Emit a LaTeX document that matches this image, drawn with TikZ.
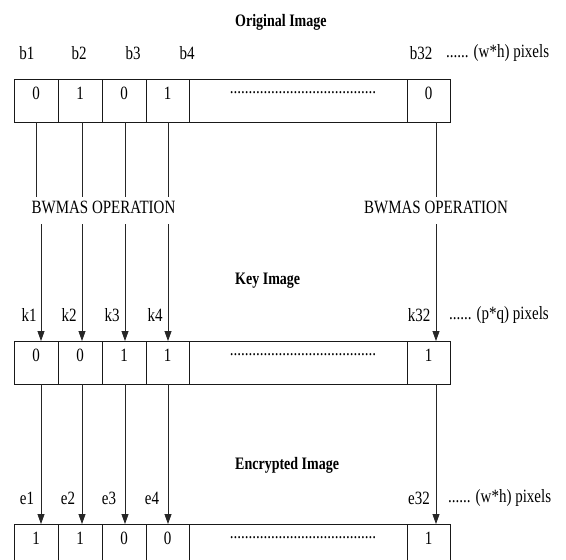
\documentclass[tikz,border=0pt]{standalone}
\usepackage{fontspec}
\setmainfont{Liberation Serif}
\usepackage{graphicx}
\usetikzlibrary{arrows.meta}
\newcommand\vst[1]{\scalebox{1}[1.25]{#1}}
\newcommand\dotsrow{.......................................}
\begin{document}
\begin{tikzpicture}[x=1pt,y=-1pt,
  txt/.style={inner sep=0pt, font=\fontsize{15}{17}\selectfont},
  ttl/.style={inner sep=0pt, anchor=west, font=\fontsize{14}{16}\selectfont\bfseries},
  cell/.style={draw=black!90, line width=0.8pt, minimum height=43pt, inner sep=0pt, outer sep=0pt},
  dig/.style={anchor=center, yshift=-14pt, inner sep=0pt, font=\fontsize{15}{17}\selectfont},
  dts/.style={dig, xshift=5pt},
  seg/.style={draw=black!85, line width=0.8pt},
  arr/.style={seg, -{Triangle[length=10pt,width=7pt]}, shorten >=0pt}
]
\useasboundingbox (0,0) rectangle (566,560);
\clip (0,0) rectangle (566,560);

% titles
\node[ttl] (t1) at (235,22) {\vst{Original Image}};
\node[ttl] (t2) at (235,281) {\vst{Key Image}};
\node[ttl] (t3) at (235,465) {\vst{Encrypted Image}};

% rows: original (y=100.5), key (y=362.5), encrypted (y=545.5)
\foreach \r/\yc/\va/\vb/\vc/\vd/\ve in {o/100.5/0/1/0/1/0, k/362.5/0/0/1/1/1, e/545.5/1/1/0/0/1}{
  \node[cell, minimum width=44pt, label={[dig]north:\vst{\va}}] (\r1) at (36,\yc) {};
  \node[cell, minimum width=44pt, label={[dig]north:\vst{\vb}}] (\r2) at (80,\yc) {};
  \node[cell, minimum width=44pt, label={[dig]north:\vst{\vc}}] (\r3) at (124,\yc) {};
  \node[cell, minimum width=43pt, label={[dig]north:\vst{\vd}}] (\r4) at (167.5,\yc) {};
  \node[cell, minimum width=218pt, label={[dts]north:\vst{\dotsrow}}] (\r5) at (298,\yc) {};
  \node[cell, minimum width=43pt, label={[dig]north:\vst{\ve}}] (\r6) at (428.5,\yc) {};
}

% labels above rows
\node[txt] (b1) at (27,53) {\vst{b1}};
\node[txt] (b2) at (79,53) {\vst{b2}};
\node[txt] (b3) at (133,53) {\vst{b3}};
\node[txt] (b4) at (187,53) {\vst{b4}};
\node[txt] (b32) at (421,53) {\vst{b32}};
\node[txt, anchor=west] (bp) at (446,53) {\vst{...... (w*h) pixels}};

\node[txt] (k1l) at (29,315) {\vst{k1}};
\node[txt] (k2l) at (69,315) {\vst{k2}};
\node[txt] (k3l) at (112,315) {\vst{k3}};
\node[txt] (k4l) at (155,315) {\vst{k4}};
\node[txt] (k32l) at (419,315) {\vst{k32}};
\node[txt, anchor=west] (kp) at (449,315) {\vst{...... (p*q) pixels}};

\node[txt] (e1l) at (27,498) {\vst{e1}};
\node[txt] (e2l) at (68,498) {\vst{e2}};
\node[txt] (e3l) at (109,498) {\vst{e3}};
\node[txt] (e4l) at (152,498) {\vst{e4}};
\node[txt] (e32l) at (419,498) {\vst{e32}};
\node[txt, anchor=west] (ep) at (448,498) {\vst{...... (w*h) pixels}};

% operation labels
\node[txt] (bw1) at (103.5,207) {\vst{BWMAS OPERATION}};
\node[txt] (bw2) at (436,207) {\vst{BWMAS OPERATION}};

% line x positions and ends
\coordinate (ua) at (0,197);
\coordinate (la) at (0,224);
\coordinate (x1) at (36,0);
\coordinate (x1b) at (41,0);
\coordinate (x2) at (82,0);
\coordinate (x3) at (125,0);
\coordinate (x4) at (168,0);
\coordinate (x5) at (436,0);

% original -> operation
\foreach \c/\x in {1/x1,2/x2,3/x3,4/x4,6/x5}{
  \draw[seg] (o\c.south -| \x) -- (\x |- ua);
}
% operation -> key
\foreach \c/\x in {1/x1b,2/x2,3/x3,4/x4,6/x5}{
  \draw[arr] (\x |- la) -- (k\c.north -| \x);
}
% key -> encrypted
\foreach \c/\x in {1/x1b,2/x2,3/x3,4/x4,6/x5}{
  \draw[arr] (k\c.south -| \x) -- (e\c.north -| \x);
}
\end{tikzpicture}
\end{document}
